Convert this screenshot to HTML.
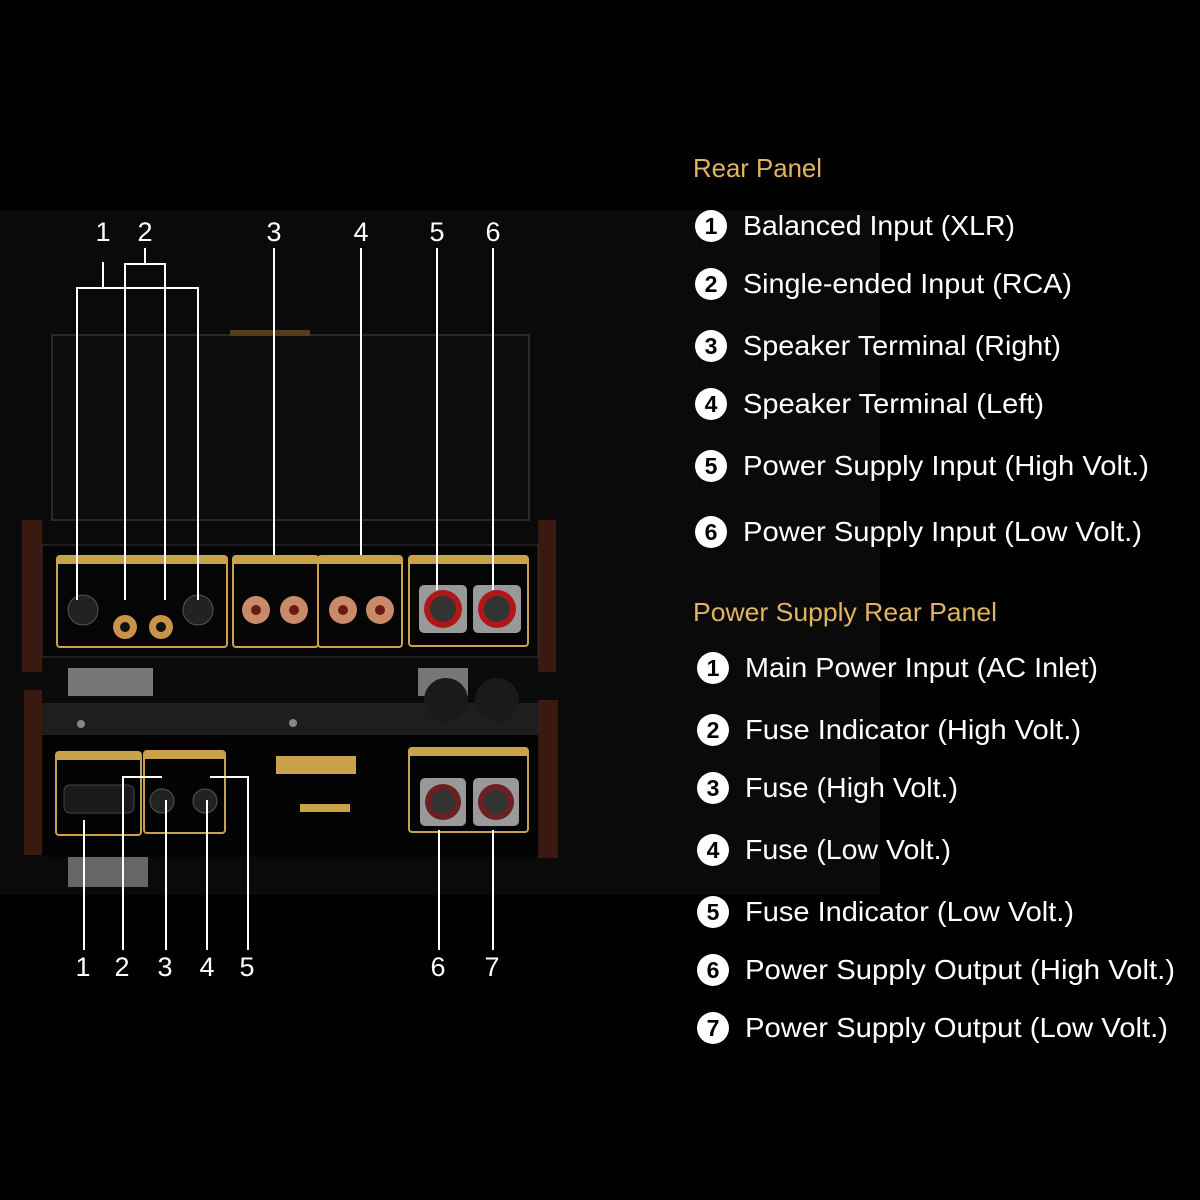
<!DOCTYPE html>
<html><head><meta charset="utf-8"><style>
html,body{margin:0;padding:0;background:#000;}
svg{display:block}
</style></head><body>
<svg width="1200" height="1200" viewBox="0 0 1200 1200" xmlns="http://www.w3.org/2000/svg" font-family="Liberation Sans, sans-serif">
<rect width="1200" height="1200" fill="#000"/>
<rect x="0" y="210" width="880" height="685" fill="#0a0a0a"/>
<!-- glass top amp -->
<rect x="52" y="335" width="477" height="185" fill="#0d0d0d" stroke="#2a2a2a" stroke-width="2"/>
<rect x="230" y="330" width="80" height="6" fill="#5a3a1a"/>
<!-- wooden sides -->
<rect x="22" y="520" width="20" height="152" fill="#3a1a10"/>
<rect x="538" y="520" width="18" height="152" fill="#3a1a10"/>
<rect x="24" y="690" width="18" height="165" fill="#3a1a10"/>
<rect x="538" y="700" width="20" height="158" fill="#3a1a10"/>
<!-- feet -->
<rect x="68" y="668" width="85" height="28" fill="#777"/><rect x="418" y="668" width="50" height="28" fill="#777"/>
<rect x="68" y="857" width="80" height="30" fill="#666"/>
<!-- top front panel -->
<rect x="42" y="545" width="496" height="112" fill="#050505" stroke="#333" stroke-width="1"/>
<!-- bottom unit -->
<rect x="42" y="703" width="496" height="32" fill="#1e1e1e"/>
<rect x="42" y="735" width="496" height="122" fill="#040404"/>
<circle cx="81" cy="724" r="4" fill="#888"/><circle cx="293" cy="723" r="4" fill="#888"/>
<g fill="none" stroke="#c9a24a" stroke-width="2">
<rect x="57" y="556" width="170" height="91" rx="3"/>
<rect x="233" y="556" width="85" height="91" rx="3"/>
<rect x="318" y="556" width="84" height="91" rx="3"/>
<rect x="409" y="556" width="119" height="90" rx="3"/>
<rect x="56" y="752" width="85" height="83" rx="3"/>
<rect x="144" y="751" width="81" height="82" rx="3"/>
<rect x="409" y="748" width="119" height="84" rx="3"/>
</g>
<g fill="#c9a24a">
<rect x="57" y="556" width="170" height="8"/><rect x="233" y="556" width="85" height="8"/><rect x="318" y="556" width="84" height="8"/><rect x="409" y="556" width="119" height="8"/>
<rect x="56" y="752" width="85" height="8"/><rect x="144" y="751" width="81" height="8"/><rect x="409" y="748" width="119" height="8"/>
<rect x="276" y="756" width="80" height="18"/><rect x="300" y="804" width="50" height="8"/>
</g>
<!-- xlr -->
<g fill="#222" stroke="#555"><circle cx="83" cy="610" r="15"/><circle cx="198" cy="610" r="15"/></g>
<!-- rca -->
<g><circle cx="125" cy="627" r="12" fill="#c9944a"/><circle cx="125" cy="627" r="5" fill="#111"/><circle cx="161" cy="627" r="12" fill="#c9944a"/><circle cx="161" cy="627" r="5" fill="#111"/></g>
<!-- speaker terminals -->
<g fill="#c98a6a"><circle cx="256" cy="610" r="14"/><circle cx="294" cy="610" r="14"/><circle cx="343" cy="610" r="14"/><circle cx="380" cy="610" r="14"/></g>
<g fill="#6a1a10"><circle cx="256" cy="610" r="5"/><circle cx="294" cy="610" r="5"/><circle cx="343" cy="610" r="5"/><circle cx="380" cy="610" r="5"/></g>
<!-- power connectors -->
<g><rect x="419" y="585" width="48" height="48" rx="5" fill="#999"/><circle cx="443" cy="609" r="19" fill="#b01818"/><circle cx="443" cy="609" r="13" fill="#333"/>
<rect x="473" y="585" width="48" height="48" rx="5" fill="#999"/><circle cx="497" cy="609" r="19" fill="#b01818"/><circle cx="497" cy="609" r="13" fill="#333"/>
<rect x="420" y="778" width="46" height="48" rx="5" fill="#999"/><circle cx="443" cy="802" r="18" fill="#6a2020"/><circle cx="443" cy="802" r="12" fill="#333"/>
<rect x="473" y="778" width="46" height="48" rx="5" fill="#999"/><circle cx="496" cy="802" r="18" fill="#6a2020"/><circle cx="496" cy="802" r="12" fill="#333"/></g>
<g fill="#1a1a1a"><circle cx="446" cy="700" r="22"/><circle cx="497" cy="700" r="22"/></g>
<rect x="64" y="785" width="70" height="28" rx="6" fill="#1a1a1a" stroke="#444"/>
<circle cx="162" cy="801" r="12" fill="#222" stroke="#555"/><circle cx="205" cy="801" r="12" fill="#222" stroke="#555"/>
<!-- callout lines -->
<g stroke="#fff" stroke-width="2" fill="none">
<path d="M103 262V288M77 600V288H198V600"/>
<path d="M145 248V264M125 600V264H165V600"/>
<path d="M274 248V555M361 248V555M437 248V590M493 248V590"/>
<path d="M84 820V950M123 950V777H162M166 800V950M207 800V950M210 777H248V950M439 830V950M493 830V950"/>
</g>
<g fill="#fff" font-size="27" text-anchor="middle">
<text x="103" y="241">1</text><text x="145" y="241">2</text><text x="274" y="241">3</text><text x="361" y="241">4</text><text x="437" y="241">5</text><text x="493" y="241">6</text>
<text x="83" y="976">1</text><text x="122" y="976">2</text><text x="165" y="976">3</text><text x="207" y="976">4</text><text x="247" y="976">5</text><text x="438" y="976">6</text><text x="492" y="976">7</text>
</g>
<!-- right text -->
<g font-size="26" fill="#e2b360"><text x="693" y="177" textLength="129" lengthAdjust="spacingAndGlyphs">Rear Panel</text><text x="693" y="621" textLength="304" lengthAdjust="spacingAndGlyphs">Power Supply Rear Panel</text></g>
<g font-size="28" fill="#fff" lengthAdjust="spacingAndGlyphs">
<text x="743" y="235" textLength="272" lengthAdjust="spacingAndGlyphs">Balanced Input (XLR)</text>
<text x="743" y="293" textLength="329" lengthAdjust="spacingAndGlyphs">Single-ended Input (RCA)</text>
<text x="743" y="355" textLength="318" lengthAdjust="spacingAndGlyphs">Speaker Terminal (Right)</text>
<text x="743" y="413" textLength="301" lengthAdjust="spacingAndGlyphs">Speaker Terminal (Left)</text>
<text x="743" y="475" textLength="406" lengthAdjust="spacingAndGlyphs">Power Supply Input (High Volt.)</text>
<text x="743" y="541" textLength="399" lengthAdjust="spacingAndGlyphs">Power Supply Input (Low Volt.)</text>
<text x="745" y="677" textLength="353" lengthAdjust="spacingAndGlyphs">Main Power Input (AC Inlet)</text>
<text x="745" y="739" textLength="336" lengthAdjust="spacingAndGlyphs">Fuse Indicator (High Volt.)</text>
<text x="745" y="797" textLength="213" lengthAdjust="spacingAndGlyphs">Fuse (High Volt.)</text>
<text x="745" y="859" textLength="206" lengthAdjust="spacingAndGlyphs">Fuse (Low Volt.)</text>
<text x="745" y="921" textLength="329" lengthAdjust="spacingAndGlyphs">Fuse Indicator (Low Volt.)</text>
<text x="745" y="979" textLength="430" lengthAdjust="spacingAndGlyphs">Power Supply Output (High Volt.)</text>
<text x="745" y="1037" textLength="423" lengthAdjust="spacingAndGlyphs">Power Supply Output (Low Volt.)</text>
</g>
<g fill="#fff"><circle cx="711" cy="226" r="16"/><circle cx="711" cy="284" r="16"/><circle cx="711" cy="346" r="16"/><circle cx="711" cy="404" r="16"/><circle cx="711" cy="466" r="16"/><circle cx="711" cy="532" r="16"/>
<circle cx="713" cy="668" r="16"/><circle cx="713" cy="730" r="16"/><circle cx="713" cy="788" r="16"/><circle cx="713" cy="850" r="16"/><circle cx="713" cy="912" r="16"/><circle cx="713" cy="970" r="16"/><circle cx="713" cy="1028" r="16"/></g>
<g fill="#000" font-size="23" font-weight="bold" text-anchor="middle">
<text x="711" y="234">1</text><text x="711" y="292">2</text><text x="711" y="354">3</text><text x="711" y="412">4</text><text x="711" y="474">5</text><text x="711" y="540">6</text>
<text x="713" y="676">1</text><text x="713" y="738">2</text><text x="713" y="796">3</text><text x="713" y="858">4</text><text x="713" y="920">5</text><text x="713" y="978">6</text><text x="713" y="1036">7</text>
</g>
</svg>
</body></html>
